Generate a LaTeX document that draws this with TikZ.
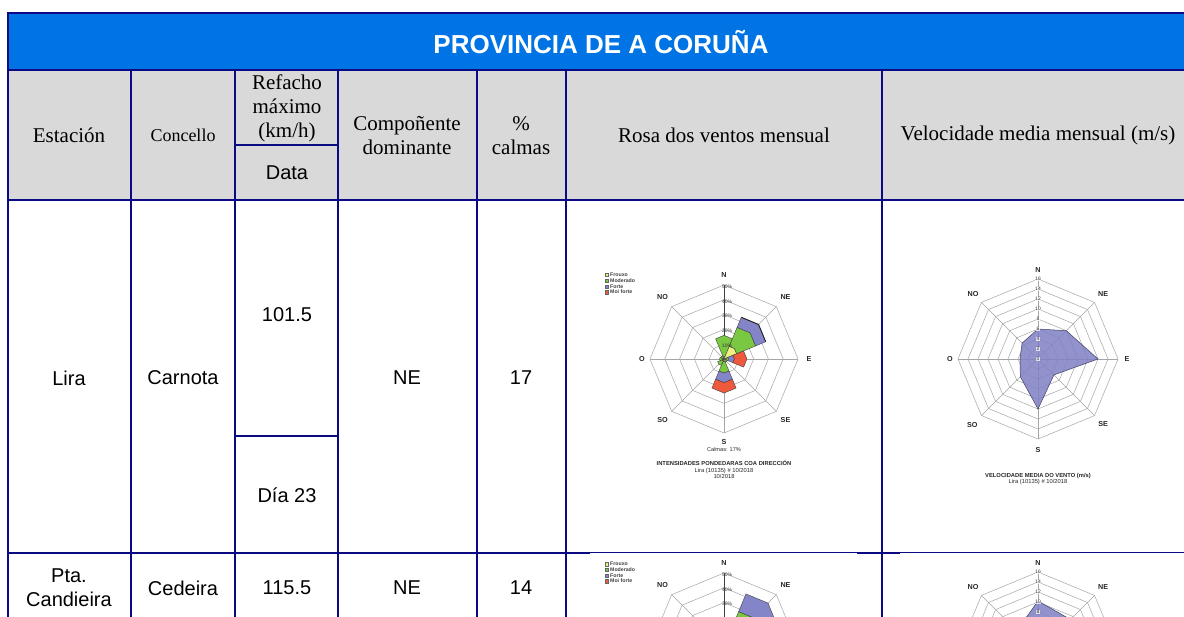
\documentclass[tikz,border=0pt]{standalone}
\usepackage{fontspec}
\setmainfont{Liberation Serif}
\setsansfont{Liberation Sans}
\usetikzlibrary{calc}

\definecolor{titleblue}{RGB}{0,116,228}
\definecolor{hdrgray}{RGB}{217,217,217}
\definecolor{rulecol}{RGB}{10,10,130}
\definecolor{cfrouxo}{RGB}{238,240,130}
\definecolor{cmoderado}{RGB}{122,200,66}
\definecolor{cforte}{RGB}{132,132,200}
\definecolor{cmoiforte}{RGB}{238,88,60}
\definecolor{cvel}{RGB}{128,128,196}
\definecolor{gridcol}{RGB}{165,165,165}

\tikzset{
  hrule/.style={draw=rulecol, line width=2pt},
  vrule/.style={draw=rulecol, line width=1.2pt},
  hdrserif/.style={font=\fontsize{21}{24}\selectfont, align=center, inner sep=0pt},
  hdrsmall/.style={font=\fontsize{18}{20}\selectfont, inner sep=0pt},
  cellsans/.style={font=\sffamily\fontsize{20}{24}\selectfont, align=center, inner sep=0pt},
  titletext/.style={font=\sffamily\bfseries\fontsize{26}{28}\selectfont, text=white, inner sep=0pt},
  gridline/.style={draw=gridcol, line width=0.5pt},
  axisline/.style={draw=black!75, line width=0.6pt},
  dirlabel/.style={font=\sffamily\bfseries\fontsize{7.2}{8}\selectfont, inner sep=0pt, text=black!85},
  ticklabel/.style={font=\sffamily\fontsize{5}{5.5}\selectfont, inner sep=0.3pt, text=black!80},
  vticklabel/.style={font=\sffamily\fontsize{5}{5.5}\selectfont, inner sep=0.4pt, text=black!80, fill=white, fill opacity=0.75, text opacity=1},
  chartcaption/.style={font=\sffamily\bfseries\fontsize{5.8}{6.3}\selectfont, align=center, inner sep=0pt, text=black!85},
  legendtext/.style={font=\sffamily\bfseries\fontsize{5.2}{5.5}\selectfont, inner sep=0pt, anchor=west, text=black!75},
  legendbox/.style={draw=black!60, line width=0.3pt},
  petalstyle/.style={draw=black!75, line width=0.4pt},
}

% direction angle, r1 (%), r2 (%), colour
\newcommand\rosepetal[4]{%
  \filldraw[petalstyle, fill=#4]
    (#1+22.5:{#2*1.48*0.9239}) -- (#1:{#2*1.48}) -- (#1-22.5:{#2*1.48*0.9239}) --
    (#1-22.5:{#3*1.48*0.9239}) -- (#1:{#3*1.48}) -- (#1+22.5:{#3*1.48*0.9239}) -- cycle;}

\newcommand\rosegridlines{%
  \foreach \k in {1,...,5}{%
    \draw[gridline] (0:{\k*14.8}) -- (45:{\k*14.8}) -- (90:{\k*14.8}) -- (135:{\k*14.8}) --
      (180:{\k*14.8}) -- (225:{\k*14.8}) -- (270:{\k*14.8}) -- (315:{\k*14.8}) -- cycle;}
  \foreach \a in {0,45,...,315} \draw[gridline] (0,0) -- (\a:74);
}

\newcommand\velgridlines{%
  \foreach \k in {1,...,8}{%
    \draw[gridline] (0:{\k*10}) -- (45:{\k*10}) -- (90:{\k*10}) -- (135:{\k*10}) --
      (180:{\k*10}) -- (225:{\k*10}) -- (270:{\k*10}) -- (315:{\k*10}) -- cycle;}
  \foreach \a in {0,45,...,315} \draw[gridline] (0,0) -- (\a:80);
}

\begin{document}
\begin{tikzpicture}[x=1pt,y=-1pt]
\useasboundingbox (0,0) rectangle (1184,617);
\fill[white] (0,0) rectangle (1184,617);

% backgrounds
\fill[titleblue] (8,13) rectangle (1184,70);
\fill[hdrgray] (8,70) rectangle (1184,200);

% ---------------- rose chart row 1 ----------------
\begin{scope}[shift={(724,359)}, yscale=-1]
  \rosegridlines
  \draw[axisline] (0,0) -- (90:74);
  % N
  \rosepetal{90}{0}{2}{cfrouxo}
  \rosepetal{90}{2}{16}{cmoderado}
  % NE
  \rosepetal{45}{0}{10}{cfrouxo}
  \rosepetal{45}{10}{25}{cmoderado}
  \rosepetal{45}{25}{33}{cforte}
  \draw[black!85, line width=0.9pt] (67.5:{33*1.48*0.9239}) -- (45:{33*1.48}) -- (22.5:{33*1.48*0.9239});
  % E
  \rosepetal{0}{0}{1.5}{cfrouxo}
  \rosepetal{0}{1.5}{3}{cmoderado}
  \rosepetal{0}{3}{7}{cforte}
  \rosepetal{0}{7}{15.5}{cmoiforte}
  % SE
  \rosepetal{-45}{0}{1}{cfrouxo}
  \rosepetal{-45}{1}{2.5}{cmoderado}
  % S
  \rosepetal{-90}{0}{2}{cfrouxo}
  \rosepetal{-90}{2}{9.5}{cmoderado}
  \rosepetal{-90}{9.5}{16}{cforte}
  \rosepetal{-90}{16}{23}{cmoiforte}
  % SO
  \rosepetal{-135}{0}{1.5}{cfrouxo}
  \rosepetal{-135}{1.5}{5}{cmoderado}
  % O
  \rosepetal{180}{0}{1}{cfrouxo}
  \rosepetal{180}{1}{3}{cmoderado}
  % NO
  \rosepetal{135}{0}{1}{cfrouxo}
  \rosepetal{135}{1}{2.5}{cmoderado}
  \foreach \k in {1,...,5} \node[ticklabel] (ra-t\k) at (3,{\k*14.8-1.5}) {\k0\%};
  \node[dirlabel] (ra-n)  at (90:84)   {N};
  \node[dirlabel] (ra-ne) at (45:87)   {NE};
  \node[dirlabel] (ra-e)  at (0:85)    {E};
  \node[dirlabel] (ra-se) at (-45:87)  {SE};
  \node[dirlabel] (ra-s)  at (-90:83)  {S};
  \node[dirlabel] (ra-so) at (-135:87) {SO};
  \node[dirlabel] (ra-o)  at (180:82)  {O};
  \node[dirlabel] (ra-no) at (135:87)  {NO};
  \node[chartcaption, font=\sffamily\fontsize{5.6}{6}\selectfont] (ra-calm) at (0,-90) {Calmas: 17\%};
  \node[chartcaption] (ra-cap) at (0,-110.5) {INTENSIDADES PONDEDARAS COA DIRECCIÓN\\\mdseries Lira (10135) \# 10/2018\\\mdseries 10/2018};
\end{scope}
% legend row 1
\foreach \c/\t [count=\i] in {cfrouxo/Frouxo, cmoderado/Moderado, cforte/Forte, cmoiforte/Moi forte}{
  \filldraw[legendbox, fill=\c] (604.8,{275+(\i-1)*5.7-1.65}) rectangle (608.1,{275+(\i-1)*5.7+1.65});
  \node[legendtext] (ra-leg\i) at (610,{275+(\i-1)*5.7}) {\t};
}

% ---------------- velocity chart row 1 ----------------
\begin{scope}[shift={(1038,359)}, yscale=-1]
  \velgridlines
  \filldraw[fill=cvel, draw=black!50!cvel, line width=0.5pt, fill opacity=0.85]
    (90:30) -- (45:40) -- (0:60) -- (-45:22.5) -- (-90:50) -- (-135:25) -- (180:18) -- (135:22.5) -- cycle;
  \foreach \k/\v in {0/0,1/2,2/4,3/6,4/8,5/10,6/12,7/14,8/16} \node[vticklabel] (va-t\k) at (0,{\k*10}) {\v};
  \node[dirlabel] (va-n)  at (90:89)   {N};
  \node[dirlabel] (va-ne) at (45:92)   {NE};
  \node[dirlabel] (va-e)  at (0:89)    {E};
  \node[dirlabel] (va-se) at (-45:92)  {SE};
  \node[dirlabel] (va-s)  at (-90:91)  {S};
  \node[dirlabel] (va-so) at (-135:93) {SO};
  \node[dirlabel] (va-o)  at (180:88)  {O};
  \node[dirlabel] (va-no) at (135:92)  {NO};
  \node[chartcaption] (va-cap) at (0,-120) {VELOCIDADE MEDIA DO VENTO (m/s)\\\mdseries Lira (10135) \# 10/2018};
\end{scope}

% ---------------- row 2 charts (clipped) ----------------
\begin{scope}
  \clip (566,554) rectangle (882,617);
  \begin{scope}[shift={(724,647)}, yscale=-1]
    \rosegridlines
    \draw[axisline] (0,0) -- (90:74);
    \rosepetal{90}{0}{3}{cfrouxo}
    \rosepetal{90}{3}{14}{cmoderado}
    \rosepetal{45}{0}{8}{cfrouxo}
    \rosepetal{45}{8}{28}{cmoderado}
    \rosepetal{45}{28}{42}{cforte}
    \foreach \k in {3,4,5} \node[ticklabel] (rb-t\k) at (3,{\k*14.8-1.5}) {\k0\%};
    \node[dirlabel] (rb-n)  at (90:84)  {N};
    \node[dirlabel] (rb-ne) at (45:87)  {NE};
    \node[dirlabel] (rb-no) at (135:87) {NO};
  \end{scope}
  \foreach \c/\t [count=\i] in {cfrouxo/Frouxo, cmoderado/Moderado, cforte/Forte, cmoiforte/Moi forte}{
    \filldraw[legendbox, fill=\c] (604.8,{564+(\i-1)*5.7-1.65}) rectangle (608.1,{564+(\i-1)*5.7+1.65});
    \node[legendtext] (rb-leg\i) at (610,{564+(\i-1)*5.7}) {\t};
  }
\end{scope}
\begin{scope}
  \clip (882,554) rectangle (1184,617);
  \begin{scope}[shift={(1038,652)}, yscale=-1]
    \velgridlines
    \filldraw[fill=cvel, draw=black!50!cvel, line width=0.5pt, fill opacity=0.85]
      (90:51) -- (45:46) -- (0:35) -- (-45:25) -- (-90:30) -- (-135:20) -- (180:20) -- (135:30) -- cycle;
    \foreach \k/\v in {4/8,5/10,6/12,7/14,8/16} \node[vticklabel] (vb-t\k) at (0,{\k*10}) {\v};
    \node[dirlabel] (vb-n)  at (90:89)  {N};
    \node[dirlabel] (vb-ne) at (45:92)  {NE};
    \node[dirlabel] (vb-no) at (135:92) {NO};
  \end{scope}
\end{scope}

% ---------------- table rules ----------------
\draw[hrule] (8,13) -- (1184,13);
\draw[hrule] (8,70) -- (1184,70);
\draw[hrule] (8,200) -- (1184,200);
\draw[hrule] (8,553) -- (1184,553);
\fill[white] (590,553.3) rectangle (857,555);
\fill[white] (900,553.3) rectangle (1184,555);
\draw[hrule, line width=1.6pt] (235,145) -- (338,145);
\draw[hrule, line width=1.6pt] (235,436) -- (338,436);
\draw[vrule] (8,12) -- (8,617);
\foreach \xx in {131,235,338,477,566,882} \draw[vrule] (\xx,70) -- (\xx,617);

% ---------------- texts ----------------
\node[titletext] (title) at (601,42) {PROVINCIA DE A CORUÑA};

\node[hdrserif] (hEst) at (69,135) {Estación};
\node[hdrsmall] (hCon) at (183,135) {Concello};
\node[hdrserif] (hRef) at (287,108) {Refacho\\máximo\\(km/h)};
\node[cellsans] (hData) at (287,173) {Data};
\node[hdrserif] (hComp) at (407,135.5) {Compoñente\\dominante};
\node[hdrserif] (hCal) at (521,135.5) {\%\\calmas};
\node[hdrserif] (hRosa) at (724,135) {Rosa dos ventos mensual};
\node[hdrserif] (hVel) at (1038,135) {Velocidade media mensual (m/s)};

\node[cellsans] (c1a) at (69,378) {Lira};
\node[cellsans] (c1b) at (183,378) {Carnota};
\node[cellsans] (c1c) at (287,315) {101.5};
\node[cellsans] (c1d) at (287,495) {Día 23};
\node[cellsans] (c1e) at (407,378) {NE};
\node[cellsans] (c1f) at (521,378) {17};

\node[cellsans] (c2a) at (69,588) {Pta.\\Candieira};
\node[cellsans] (c2b) at (183,588) {Cedeira};
\node[cellsans] (c2c) at (287,588) {115.5};
\node[cellsans] (c2e) at (407,588) {NE};
\node[cellsans] (c2f) at (521,588) {14};
\end{tikzpicture}
\end{document}
